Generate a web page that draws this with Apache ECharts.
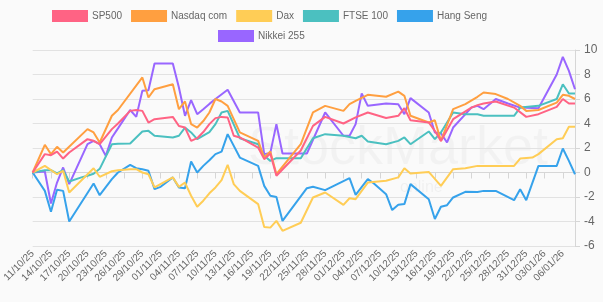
<!DOCTYPE html>
<html>
<head>
<meta charset="utf-8">
<script src="https://cdn.jsdelivr.net/npm/echarts@6/dist/echarts.min.js"></script>
<style>
  html, body { margin: 0; padding: 0; background: #fafafa; }
  #chart { width: 603px; height: 302px; }
</style>
</head>
<body>
<div id="chart"></div>
<script>
const days = [
  '11/10/25','12/10/25','13/10/25','14/10/25','15/10/25','16/10/25','17/10/25','18/10/25','19/10/25','20/10/25',
  '21/10/25','22/10/25','23/10/25','24/10/25','25/10/25','26/10/25','27/10/25','28/10/25','29/10/25','30/10/25',
  '31/10/25','01/11/25','02/11/25','03/11/25','04/11/25','05/11/25','06/11/25','07/11/25','08/11/25','09/11/25',
  '10/11/25','11/11/25','12/11/25','13/11/25','14/11/25','15/11/25','16/11/25','17/11/25','18/11/25','19/11/25',
  '20/11/25','21/11/25','22/11/25','23/11/25','24/11/25','25/11/25','26/11/25','27/11/25','28/11/25','29/11/25',
  '30/11/25','01/12/25','02/12/25','03/12/25','04/12/25','05/12/25','06/12/25','07/12/25','08/12/25','09/12/25',
  '10/12/25','11/12/25','12/12/25','13/12/25','14/12/25','15/12/25','16/12/25','17/12/25','18/12/25','19/12/25',
  '20/12/25','21/12/25','22/12/25','23/12/25','24/12/25','25/12/25','26/12/25','27/12/25','28/12/25','29/12/25',
  '30/12/25','31/12/25','01/01/26','02/01/26','03/01/26','04/01/26','05/01/26','06/01/26','07/01/26','08/01/26'
];

const n = null;

const sp500 = [
  0, n, 1.5, 1.41, 1.71, 1.14, 1.63, n, n, 2.72,
  2.59, 2.31, n, 3.54, 4.0, n, 5.03, 5.1, 5.03, 4.08,
  4.35, n, n, 4.54, 3.8, 3.67, 2.58, 2.8, 3.3, 3.95,
  4.44, 4.54, 4.49, 3.0, 2.86, n, n, 2.04, 1.09, 1.55,
  -0.27, n, n, n, 1.8, n, 3.81, n, 4.54, n,
  n, 4.0, n, 4.5, n, 4.9, n, n, 4.45, n,
  4.63, 5.25, 4.27, n, n, 4.08, 3.4, 2.58, n, 4.35,
  n, n, 5.3, 5.5, 5.63, n, 5.8, n, n, 5.3,
  n, 4.54, n, 4.76, n, n, 5.36, 6.0, 5.63, 5.63
];

const nasdaq = [
  0, n, 2.26, 1.5, 2.1, 1.63, n, n, n, 3.54,
  3.27, 2.45, n, 4.63, 5.1, n, n, n, 7.76, 6.12,
  6.8, n, n, 7.2, 5.17, 5.8, 3.95, 3.67, 4.2, 4.9,
  6.0, 5.8, 5.44, n, 3.27, n, n, 2.58, 1.22, 1.71,
  -0.14, n, n, n, 2.31, n, 4.9, n, 5.44, n,
  n, 5.03, 5.58, 5.85, n, 6.34, n, n, 6.18, n,
  6.6, 6.26, 4.63, n, n, 4.08, 4.27, 2.58, n, 5.17,
  n, 5.58, n, 6.18, 6.53, n, 6.4, n, 6.0, n,
  5.44, 5.03, n, 5.1, n, n, 5.7, 6.34, 6.26, 6.0
];

const dax = [
  0, n, 0.54, n, -0.14, 0.14, -1.63, n, n, n,
  0.35, -0.35, n, 0.1, 0.19, n, 0.27, 0.27, 0, -0.14,
  -1.22, n, n, -0.4, -1.17, -0.82, -1.9, -2.8, -2.3, -1.7,
  -1.22, -0.63, 0.63, -0.95, -1.5, n, n, -2.58, -4.44, -4.5,
  -3.95, -4.76, n, n, -4.1, n, -2.04, n, -1.63, n,
  n, -2.64, -2.1, -2.18, n, -0.82, n, n, -0.68, n,
  -0.4, 0.35, -0.08, n, n, 0.05, n, -1.09, n, 0.27,
  n, 0.35, n, 0.54, n, n, n, n, n, 0.54,
  1.14, n, 1.22, 1.5, n, n, 2.72, 2.8, 3.73, 3.73
];

const ftse = [
  0, n, 0.19, 0.19, -0.08, 0.19, -0.73, n, -0.4, -0.27,
  -0.1, 0.3, n, 2.31, 2.35, n, 2.37, n, 3.35, 3.4,
  3.0, n, n, 2.86, 3.0, 3.67, 3.27, 2.72, n, 3.3,
  3.95, 4.9, 5.03, n, 2.8, n, n, 2.31, 1.36, 0.95,
  1.17, n, n, n, 1.17, n, 2.8, n, 3.13, n,
  n, 3.0, n, 2.8, 3.0, 2.53, n, n, 2.31, n,
  2.58, 2.86, 2.31, n, n, 3.35, 2.72, 3.27, n, 4.9,
  n, 4.76, n, 4.76, 4.63, n, n, n, n, 4.63,
  5.3, n, n, 5.44, n, n, 6.0, 7.2, 6.45, 6.45
];

const hangSeng = [
  0, n, -1.5, -3.2, -1.41, -1.5, -4.0, n, n, n,
  -0.9, -1.85, n, -0.54, 0, n, 0.63, 0.35, 0.27, 0.14,
  -1.36, -1.17, n, -0.4, -1.22, -1.28, 0.9, 0, 0.54, 1.0,
  1.5, 1.71, 3.13, n, 1.22, n, n, 0.54, -1.09, -1.9,
  -2.0, -3.95, n, n, n, -1.28, -1.17, n, -1.44, n,
  n, n, -0.46, -1.82, n, -0.54, -0.9, n, -1.77, -3.07,
  -2.64, -2.58, -0.95, n, n, -2.18, -3.8, -2.8, -2.67, -2.04,
  n, -1.58, n, -1.6, -1.5, n, -1.5, n, n, -2.26,
  -1.36, -2.26, n, 0.54, n, n, 0.54, 1.96, 0.95, -0.14
];

const nikkei = [
  0, n, 0.08, -2.53, -0.82, 0.41, -0.95, n, n, 2.31,
  2.59, 2.31, 1.36, 2.86, 3.6, n, 5.1, 4.54, 6.67, 6.72,
  8.9, n, n, 8.9, 6.94, 4.63, 5.9, 4.76, 5.17, 5.6,
  6.0, n, 6.75, n, 4.9, n, n, 4.9, 1.5, 1.6,
  3.95, 1.55, n, n, n, 1.55, n, n, 4.9, n,
  n, 3.0, 3.0, 3.95, 6.45, 5.44, n, n, 5.63, n,
  5.58, 4.76, 6.07, n, n, 4.9, 3.27, 3.2, 2.45, 3.67,
  n, n, 5.3, 5.44, 5.17, n, 6.0, n, 5.63, n,
  5.3, n, n, 5.25, n, n, 8.0, 9.44, 8.3, 6.8
];

const names = ['SP500', 'Nasdaq com', 'Dax', 'FTSE 100', 'Hang Seng', 'Nikkei 255'];
const colors = ['#ff6384', '#ff9f40', '#ffcd56', '#4bc0c0', '#36a2eb', '#9966ff'];
const values = [sp500, nasdaq, dax, ftse, hangSeng, nikkei];

const chart = echarts.init(document.getElementById('chart'));

const font = 'Liberation Sans, Arial, sans-serif';
const legendText = { color: '#666', fontSize: 10, fontFamily: font, padding: [0, 0, 0, -1] };

chart.setOption({
  backgroundColor: '#fafafa',
  animation: false,
  legend: [
    {
      data: names.slice(0, 5),
      left: 52, top: 10, padding: 0,
      itemWidth: 36, itemHeight: 12, itemGap: 9,
      icon: 'rect',
      textStyle: legendText
    },
    {
      data: names.slice(5),
      left: 218, top: 30, padding: 0,
      itemWidth: 36, itemHeight: 12,
      icon: 'rect',
      textStyle: legendText
    }
  ],
  graphic: [
    {
      type: 'text', left: 248, top: 122, silent: true, z: -1,
      style: { text: 'StockMarket', fontSize: 54, fontFamily: font, fill: 'rgba(0,0,0,0.03)' }
    },
    {
      type: 'text', left: 400, top: 180, silent: true, z: -1,
      style: { text: 'online', fontSize: 16, fontFamily: font, fill: 'rgba(0,0,0,0.045)' }
    }
  ],
  grid: { left: 30, right: 28, top: 50, bottom: 56 },
  xAxis: {
    type: 'category',
    data: days,
    boundaryGap: false,
    axisLine: { lineStyle: { color: '#d6d6d6' } },
    axisTick: { interval: 2, length: 6, lineStyle: { color: '#d6d6d6' } },
    axisLabel: {
      interval: 2, rotate: 45, color: '#666', fontSize: 10, margin: 6,
      fontFamily: font
    },
    splitLine: { show: false }
  },
  yAxis: {
    type: 'value',
    position: 'right',
    min: -6, max: 10, interval: 2,
    axisLine: { show: true, lineStyle: { color: '#d6d6d6' } },
    axisTick: { show: true, length: 5, lineStyle: { color: '#d6d6d6' } },
    axisLabel: { color: '#666', fontSize: 12, margin: 9, fontFamily: font },
    splitLine: { lineStyle: { color: '#e2e2e2' } }
  },
  series: names.map((name, i) => ({
    name: name,
    type: 'line',
    data: values[i],
    connectNulls: true,
    showSymbol: false,
    symbol: 'none',
    z: 10 - i,
    itemStyle: { color: colors[i] },
    lineStyle: { width: 2, color: colors[i] }
  }))
});
</script>
</body>
</html>
